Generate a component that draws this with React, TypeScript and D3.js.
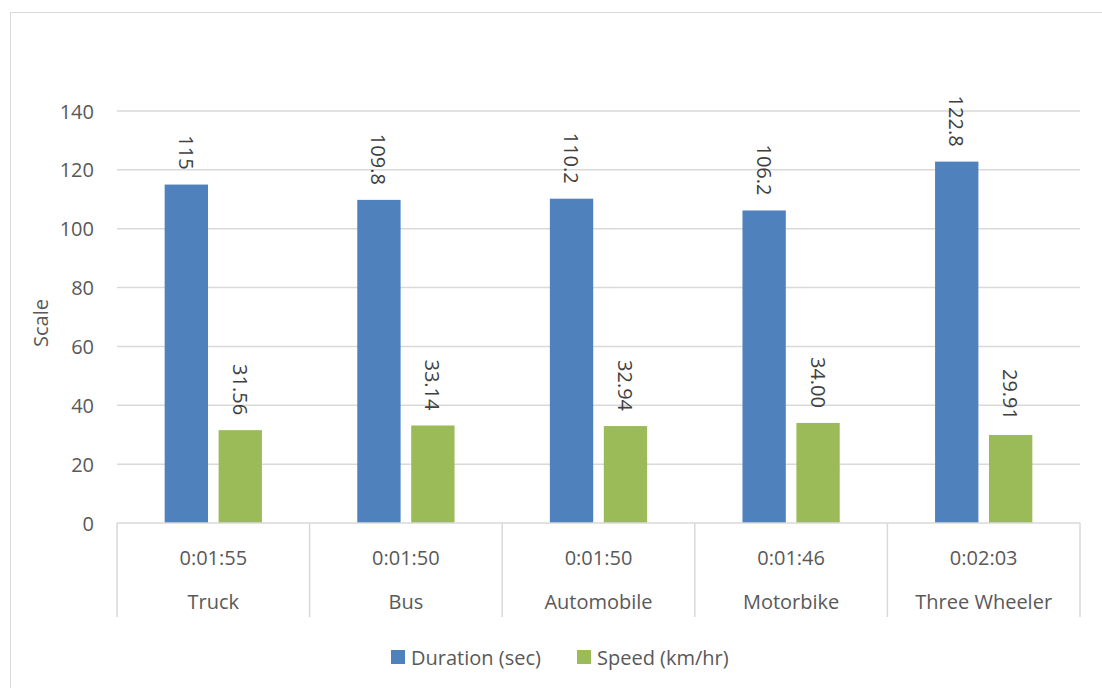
import React from "react";
import * as d3 from "d3";

const categories = ["Truck", "Bus", "Automobile", "Motorbike", "Three Wheeler"];
const times = ["0:01:55", "0:01:50", "0:01:50", "0:01:46", "0:02:03"];
const duration = [115, 109.8, 110.2, 106.2, 122.8];
const speed = [31.56, 33.14, 32.94, 34.0, 29.91];
const durationLabels = ["115", "109.8", "110.2", "106.2", "122.8"];
const speedLabels = ["31.56", "33.14", "32.94", "34.00", "29.91"];
const yTicks = [0, 20, 40, 60, 80, 100, 120, 140];
const seriesNames = ["Duration (sec)", "Speed (km/hr)"];
const colors = ["#4f81bd", "#9bbb59"];

const W = 1102;
const H = 688;
const left = 117;
const right = 1080;
const top = 111;
const bottom = 523;
const font = "'Open Sans', 'Liberation Sans', sans-serif";
const textColor = "#595959";
const fs = 20;

export default function App() {
  const x = d3.scaleBand<string>().domain(categories).range([left, right]).paddingInner(0).paddingOuter(0);
  const y = d3.scaleLinear().domain([0, 140]).range([bottom, top]);
  const series = [duration, speed];
  const labels = [durationLabels, speedLabels];
  const bw = x.bandwidth();
  const barW = bw * 0.225;
  const gap = bw * 0.055;
  const groupW = barW * 2 + gap;
  const bounds = [...categories.map((c) => x(c)!), right];

  return (
    <svg
      width={W}
      height={H}
      style={{ position: "absolute", left: 0, top: 0, background: "#fff" }}
      fontFamily={font}
    >
      <rect x={10.5} y={12.5} width={W + 10} height={H + 10} fill="#fff" stroke="#d9d9d9" strokeWidth={1} />
      {yTicks.map((t) => (
        <g key={t}>
          {t > 0 && (
            <line x1={left} x2={right} y1={y(t)} y2={y(t)} stroke="#d9d9d9" strokeWidth={1.5} />
          )}
          <text x={94} y={y(t)} textAnchor="end" dominantBaseline="central" fontSize={fs} fill={textColor}>
            {t}
          </text>
        </g>
      ))}
      <text
        transform={`translate(40,${(top + bottom) / 2 + 6}) rotate(-90)`}
        textAnchor="middle"
        dominantBaseline="central"
        fontSize={fs}
        fill={textColor}
      >
        Scale
      </text>
      {categories.map((c, i) => {
        const x0 = x(c)! + bw / 2 - groupW / 2;
        return (
          <g key={c}>
            {series.map((s, k) => {
              const bx = x0 + k * (barW + gap);
              const by = y(s[i]);
              return (
                <g key={k}>
                  <rect x={bx} y={by} width={barW} height={bottom - by} fill={colors[k]} />
                  <text
                    transform={`translate(${bx + barW / 2},${by - 15}) rotate(90)`}
                    textAnchor="end"
                    dominantBaseline="central"
                    fontSize={fs}
                    fill="#404040"
                  >
                    {labels[k][i]}
                  </text>
                </g>
              );
            })}
            <text x={x(c)! + bw / 2} y={557} textAnchor="middle" dominantBaseline="central" fontSize={fs} fill={textColor}>
              {times[i]}
            </text>
            <text x={x(c)! + bw / 2} y={601} textAnchor="middle" dominantBaseline="central" fontSize={fs} fill={textColor}>
              {c}
            </text>
          </g>
        );
      })}
      <line x1={left} x2={right} y1={bottom} y2={bottom} stroke="#d9d9d9" strokeWidth={1.5} />
      {bounds.map((b, i) => (
        <line key={i} x1={b} x2={b} y1={bottom} y2={617} stroke="#d9d9d9" strokeWidth={1.5} />
      ))}
      <g>
        <rect x={391} y={650} width={14} height={14} fill={colors[0]} />
        <text x={411} y={657} dominantBaseline="central" fontSize={fs} fill={textColor}>
          {seriesNames[0]}
        </text>
        <rect x={577} y={650} width={14} height={14} fill={colors[1]} />
        <text x={597} y={657} dominantBaseline="central" fontSize={fs} fill={textColor}>
          {seriesNames[1]}
        </text>
      </g>
    </svg>
  );
}
